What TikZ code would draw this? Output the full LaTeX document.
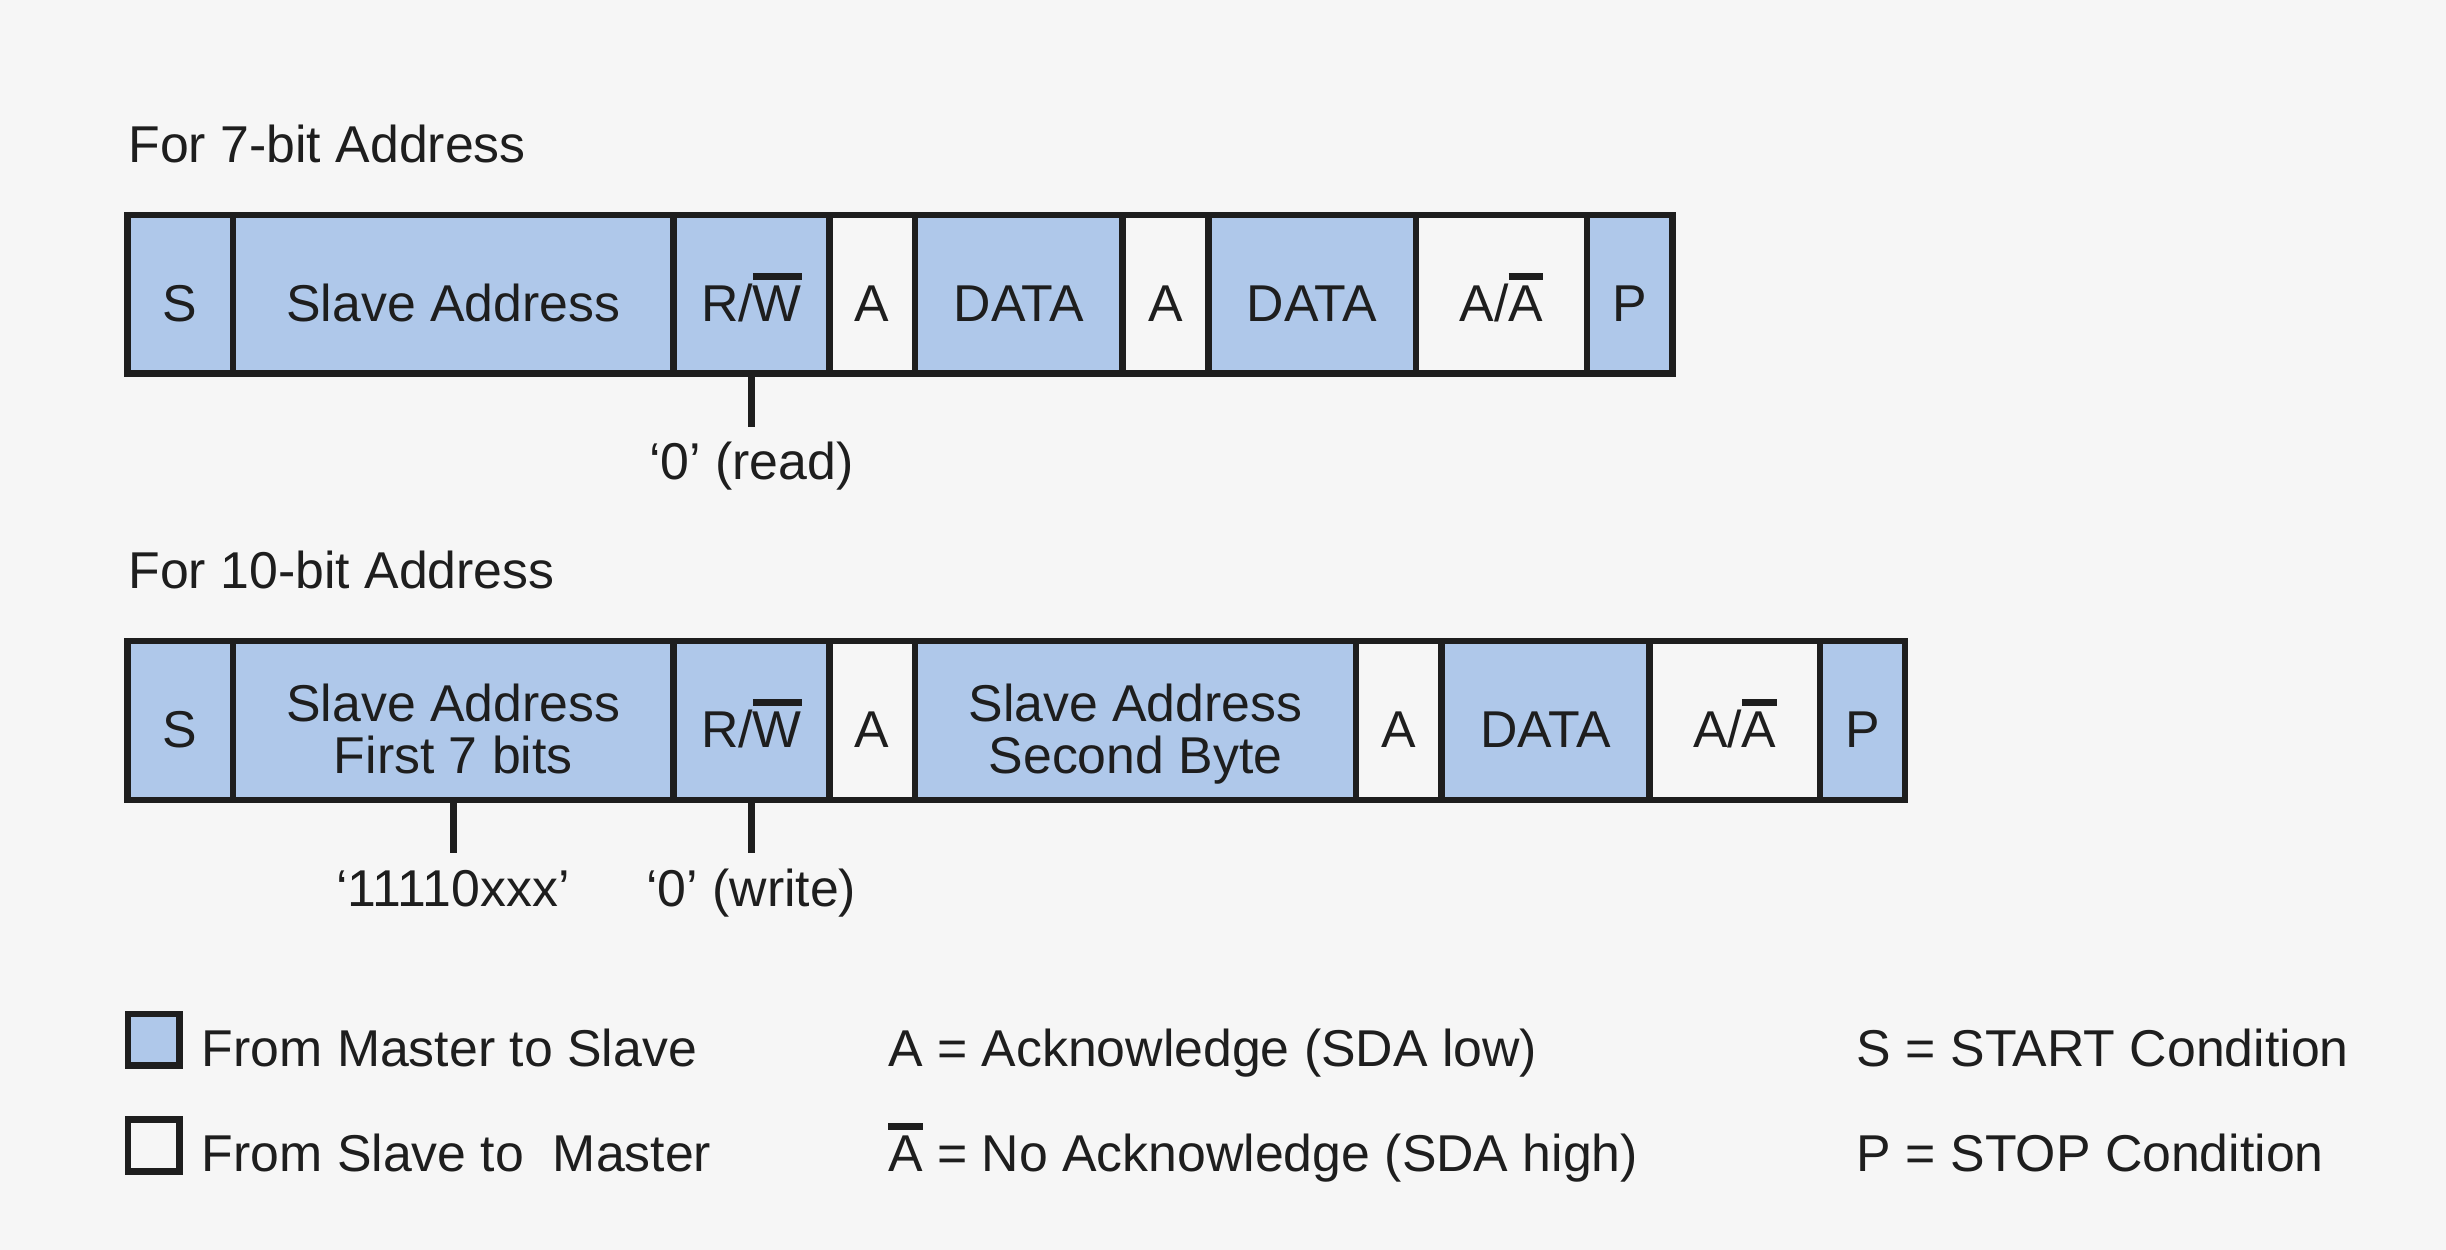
\documentclass[tikz,border=0pt]{standalone}
\usepackage{fontspec}
\setmainfont{Liberation Sans}
\usetikzlibrary{fit}
\definecolor{bg}{HTML}{F6F6F6}
\definecolor{mblue}{HTML}{AFC8EA}
\definecolor{ink}{HTML}{1E1E1E}
\newcommand{\ovbar}[1]{\setbox0=\hbox{#1}\rlap{\raisebox{\dimexpr\ht0+2pt\relax}{\color{ink}\rule{\wd0}{2.1pt}}}\box0\relax}
\begin{document}
\begin{tikzpicture}[x=0.5pt,y=-0.5pt,
  cellm/.style={draw=ink, line width=2.1pt, fill=mblue, inner sep=0pt, rectangle},
  cellw/.style={draw=ink, line width=2.1pt, fill=bg, inner sep=0pt, rectangle},
  txt/.style={text=ink, font=\fontsize{16.6}{17}\selectfont, inner sep=0pt, anchor=base},
  lft/.style={txt, anchor=base west},
  tick/.style={draw=ink, line width=2.1pt}]
\path[fill=bg] (0,0) rectangle (1568,801);
\useasboundingbox (0,0) rectangle (1568,801);

% headings
\node[lft] (h1) at (82,104) {For 7-bit Address};
\node[lft] (h2) at (82,377) {For 10-bit Address};

% baselines
\coordinate (b1) at (0,206.2);
\coordinate (b2) at (0,479.2);
\coordinate (b2a) at (0,462.3);
\coordinate (b2b) at (0,496);

% row 1
\node[cellm, fit={(81.6,137.8) (149.5,239.6)}] (a1) {};
\node[cellm, fit={(149.5,137.8) (431.8,239.6)}] (a2) {};
\node[cellm, fit={(431.8,137.8) (531.7,239.6)}] (a3) {};
\node[cellw, fit={(531.7,137.8) (586.6,239.6)}] (a4) {};
\node[cellm, fit={(586.6,137.8) (719.7,239.6)}] (a5) {};
\node[cellw, fit={(719.7,137.8) (774.6,239.6)}] (a6) {};
\node[cellm, fit={(774.6,137.8) (907.6,239.6)}] (a7) {};
\node[cellw, fit={(907.6,137.8) (1017.4,239.6)}] (a8) {};
\node[cellm, fit={(1017.4,137.8) (1072.2,239.6)}] (a9) {};
\node[txt] at (a1 |- b1) {S};
\node[txt] at (a2 |- b1) {Slave Address};
\node[txt] at (a3 |- b1) {R/\ovbar{W}};
\node[txt] at (a4 |- b1) {A};
\node[txt] at (a5 |- b1) {DATA};
\node[txt] at (a6 |- b1) {A};
\node[txt] at (a7 |- b1) {DATA};
\node[txt] at (a8 |- b1) {A/\ovbar{A}};
\node[txt] at (a9 |- b1) {P};

\coordinate (t1) at (481.7,273.9);
\draw[tick] (a3.south) -- (t1 -| a3.south);
\node[txt] (l1) at (481.7,307.7) {‘0’ (read)};

% row 2
\node[cellm, fit={(81.6,410.8) (149.4,512.8)}] (c1) {};
\node[cellm, fit={(149.4,410.8) (431.8,512.8)}] (c2) {};
\node[cellm, fit={(431.8,410.8) (531.6,512.8)}] (c3) {};
\node[cellw, fit={(531.6,410.8) (586.6,512.8)}] (c4) {};
\node[cellm, fit={(586.6,410.8) (869.2,512.8)}] (c5) {};
\node[cellw, fit={(869.2,410.8) (924,512.8)}] (c6) {};
\node[cellm, fit={(924,410.8) (1057.3,512.8)}] (c7) {};
\node[cellw, fit={(1057.3,410.8) (1166.8,512.8)}] (c8) {};
\node[cellm, fit={(1166.8,410.8) (1221.3,512.8)}] (c9) {};
\node[txt] at (c1 |- b2) {S};
\node[txt] at (c2 |- b2a) {Slave Address};
\node[txt] at (c2 |- b2b) {First 7 bits};
\node[txt] at (c3 |- b2) {R/\ovbar{W}};
\node[txt] at (c4 |- b2) {A};
\node[txt] at (c5 |- b2a) {Slave Address};
\node[txt] at (c5 |- b2b) {Second Byte};
\node[txt] at (c6 |- b2) {A};
\node[txt] at (c7 |- b2) {DATA};
\node[txt] at (c8 |- b2) {A/\ovbar{A}};
\node[txt] at (c9 |- b2) {P};

\coordinate (t2) at (0,547);
\draw[tick] (c2.south) -- (t2 -| c2.south);
\draw[tick] (c3.south) -- (t2 -| c3.south);
\node[txt] (l2) at (290.4,581) {‘11110xxx’};
\node[txt] (l3) at (481.6,581) {‘0’ (write)};

% legend
\node[cellm, fit={(82,650) (115,683)}] (k1) {};
\node[cellw, fit={(82,717.5) (115,751)}] (k2) {};
\node[lft] (k1t) at (129,683.8) {From Master to Slave};
\node[lft] (k2t) at (129,751) {From Slave to\ \ Master};
\node[lft] (e1) at (569,683.8) {A = Acknowledge (SDA low)};
\node[lft] (e2) at (569,751) {\ovbar{A} = No Acknowledge (SDA high)};
\node[lft] (e3) at (1190,683.8) {S = START Condition};
\node[lft] (e4) at (1190,751) {P = STOP Condition};
\end{tikzpicture}
\end{document}
